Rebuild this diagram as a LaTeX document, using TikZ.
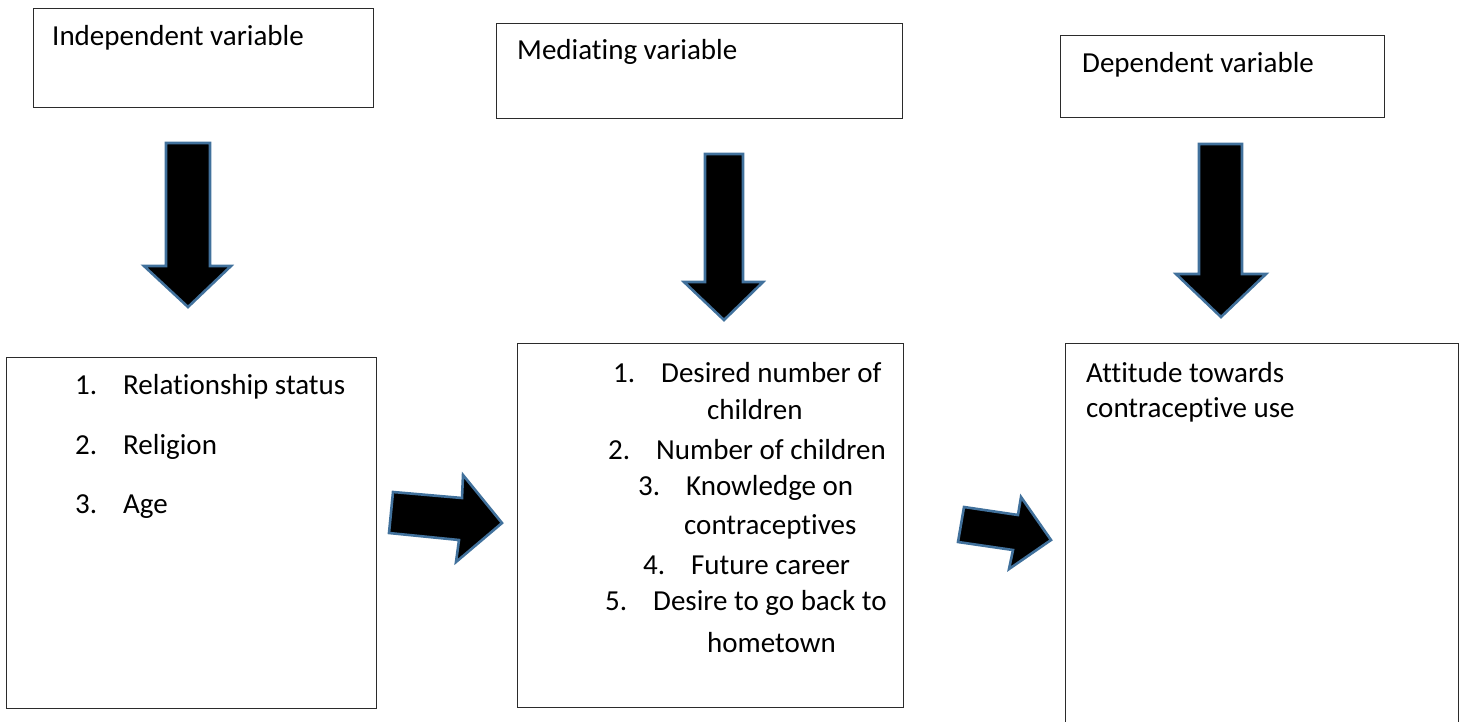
\documentclass[tikz,border=0pt]{standalone}
\usepackage{fontspec}
\setmainfont{Carlito}[Ligatures={NoCommon,NoContextual}]
\usepackage{tikz}

\definecolor{arrowedge}{HTML}{41719C}
\definecolor{boxedge}{HTML}{2B2B2B}

\tikzset{
	varbox/.style={draw=boxedge, line width=1.3pt, rectangle, inner sep=0pt, anchor=north west},
	vartext/.style={anchor=west, inner sep=0pt, font=\fontsize{29}{38}\selectfont},
	blockarrow/.style={fill=black, draw=arrowedge, line width=2.6pt, line join=miter}
}

\newcommand{\listline}[2]{\makebox[48pt][l]{#1}#2}

\begin{document}
\begin{tikzpicture}[x=1pt,y=-1pt]
		\useasboundingbox (0,0) rectangle (1470,721);
		
		% top boxes
		\node (indep) [varbox, minimum width=340pt, minimum height=99pt] at (33,8) {};
		\node (media) [varbox, minimum width=406pt, minimum height=95pt] at (496,23) {};
		\node (depen) [varbox, minimum width=324pt, minimum height=82pt] at (1060,35) {};
		\node (indeplabel) [vartext] at (52,38) {Independent variable};
		\node (medialabel) [vartext] at (517,52) {Mediating variable};
		\node (depenlabel) [vartext] at (1082,65) {Dependent variable};
		
		% down arrows
		\draw[blockarrow] (166,143) -- (210,143) -- (210,266) -- (231,266) -- (188,307) -- (144,266) -- (166,266) -- cycle;
		\draw[blockarrow] (705,154) -- (743,154) -- (743,282) -- (763,282) -- (724,320) -- (684,282) -- (705,282) -- cycle;
		\draw[blockarrow] (1199,144) -- (1242,144) -- (1242,274) -- (1266,274) -- (1221,317) -- (1176,274) -- (1199,274) -- cycle;
		
		% bottom boxes
		\node (indepbox) [varbox, minimum width=370pt, minimum height=351pt] at (6,357) {};
		\node (mediabox) [varbox, minimum width=386pt, minimum height=364pt] at (517,343) {};
		\node (depenbox) [varbox, minimum width=393pt, minimum height=384pt] at (1065,343) {};
		
		% independent items
		\node (rel) [vartext] at (75,387) {\listline{1.}{Relationship status}};
		\node (reg) [vartext] at (75,447) {\listline{2.}{Religion}};
		\node (age) [vartext] at (75,507) {\listline{3.}{Age}};
		
		% mediating items
		\node (want)  [vartext] at (613,373) {\listline{1.}{Desired number of}};
		\node (wantb) [vartext] at (707,410) {children};
		\node (kids)  [vartext] at (608,450) {\listline{2.}{Number of children}};
		\node (know)  [vartext] at (638,488) {\listline{3.}{Knowledge on}};
		\node (knowb) [vartext] at (684,527) {contraceptives};
		\node (job)   [vartext] at (643,565) {\listline{4.}{Future career}};
		\node (home)  [vartext] at (605,603) {\listline{5.}{Desire to go back to}};
		\node (homeb) [vartext] at (707,643) {hometown};
		
		% dependent item
		\node (att)  [vartext] at (1086,373) {Attitude towards};
		\node (attb) [vartext] at (1086,410) {contraceptive use};
		
		% right arrows
		\draw[blockarrow] (393,492) -- (462,498) -- (463,475) -- (502,523) -- (456,562) -- (459,540) -- (389,533) -- cycle;
		\draw[blockarrow] (964,507) -- (1018,515) -- (1021,497) -- (1051,540) -- (1009,569) -- (1013,550) -- (958,542) -- cycle;
	\end{tikzpicture}
\end{document}
